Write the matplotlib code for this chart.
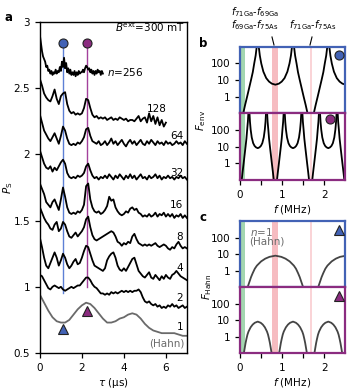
import numpy as np
import matplotlib
matplotlib.use("Agg")
import matplotlib.pyplot as plt
from matplotlib.lines import Line2D

plt.rcParams['font.family'] = ['DejaVu Sans']
plt.rcParams['font.size'] = 7
plt.rcParams['mathtext.default'] = 'it'

BLUE = '#4262b5'
PURPLE = '#8b2c80'
BLUE_L = '#5d80d6'
PURPLE_L = '#a3419c'
GRAY = '#6a6a6a'

# ---- panel a : P_S vs tau ----
tau_256 = np.linspace(0, 3, 61)
ps_256 = [2.90, 2.84, 2.78, 2.74, 2.72, 2.70, 2.66, 2.67, 2.63, 2.64,
          2.61, 2.63, 2.60, 2.62, 2.61, 2.64, 2.61, 2.63, 2.62, 2.66,
          2.63, 2.70, 2.66, 2.73, 2.65, 2.69, 2.62, 2.65, 2.61, 2.64,
          2.60, 2.62, 2.60, 2.63, 2.59, 2.62, 2.60, 2.63, 2.61, 2.62,
          2.62, 2.64, 2.62, 2.65, 2.67, 2.66, 2.64, 2.65, 2.62, 2.64,
          2.61, 2.63, 2.60, 2.63, 2.61, 2.64, 2.62, 2.63, 2.60, 2.63,
          2.61]

tau_128 = np.linspace(0, 6, 61)
ps_128 = [2.57, 2.52, 2.46, 2.43, 2.41, 2.40, 2.44, 2.49, 2.42, 2.38,
          2.44, 2.46, 2.47, 2.38, 2.33, 2.31, 2.32, 2.30, 2.31, 2.30,
          2.31, 2.35, 2.42, 2.41, 2.35, 2.30, 2.28, 2.29, 2.27, 2.28,
          2.27, 2.28, 2.26, 2.27, 2.28, 2.26, 2.27, 2.26, 2.28, 2.27,
          2.26, 2.27, 2.25, 2.26, 2.26, 2.25, 2.27, 2.29, 2.25, 2.27,
          2.28, 2.24, 2.31, 2.25, 2.29, 2.23, 2.28, 2.22, 2.26, 2.21,
          2.24]

tau = np.linspace(0, 7, 71)
ps_64 = [2.30, 2.24, 2.18, 2.15, 2.12, 2.10, 2.13, 2.16, 2.12, 2.08,
         2.14, 2.21, 2.18, 2.12, 2.08, 2.07, 2.08, 2.07, 2.09, 2.08,
         2.10, 2.13, 2.19, 2.20, 2.14, 2.10, 2.09, 2.08, 2.10, 2.07,
         2.08, 2.10, 2.07, 2.09, 2.12, 2.08, 2.10, 2.07, 2.09, 2.11,
         2.08, 2.06, 2.09, 2.11, 2.08, 2.10, 2.07, 2.09, 2.11, 2.08,
         2.07, 2.10, 2.08, 2.11, 2.09, 2.07, 2.10, 2.08, 2.09, 2.07,
         2.10, 2.08, 2.09, 2.07, 2.08, 2.10, 2.08, 2.09, 2.07, 2.10,
         2.08]
ps_32 = [2.03, 1.98, 1.93, 1.90, 1.89, 1.91, 1.87, 1.90, 1.88, 1.91,
         1.94, 1.96, 1.93, 1.86, 1.83, 1.82, 1.83, 1.82, 1.84, 1.83,
         1.84, 1.86, 1.91, 1.93, 1.88, 1.84, 1.82, 1.83, 1.81, 1.83,
         1.82, 1.84, 1.82, 1.85, 1.83, 1.81, 1.84, 1.82, 1.85, 1.83,
         1.81, 1.84, 1.82, 1.85, 1.82, 1.84, 1.81, 1.83, 1.85, 1.82,
         1.83, 1.81, 1.84, 1.82, 1.83, 1.85, 1.82, 1.84, 1.81, 1.83,
         1.82, 1.84, 1.82, 1.83, 1.81, 1.83, 1.82, 1.84, 1.82, 1.83,
         1.81]
ps_16 = [1.78, 1.74, 1.70, 1.64, 1.62, 1.60, 1.64, 1.66, 1.62, 1.58,
         1.66, 1.75, 1.68, 1.60, 1.56, 1.55, 1.56, 1.55, 1.57, 1.56,
         1.58, 1.62, 1.76, 1.78, 1.66, 1.60, 1.57, 1.56, 1.57, 1.55,
         1.56, 1.58, 1.61, 1.68, 1.65, 1.66, 1.60, 1.57, 1.55, 1.54,
         1.55, 1.57, 1.56, 1.59, 1.60, 1.58, 1.59, 1.56, 1.55, 1.53,
         1.54, 1.53, 1.55, 1.53, 1.54, 1.56, 1.53, 1.55, 1.54, 1.56,
         1.53, 1.55, 1.53, 1.55, 1.52, 1.54, 1.53, 1.55, 1.52, 1.54,
         1.52]
ps_8 = [1.60, 1.56, 1.52, 1.49, 1.47, 1.44, 1.43, 1.47, 1.49, 1.42,
        1.44, 1.49, 1.47, 1.42, 1.38, 1.37, 1.39, 1.41, 1.38, 1.40,
        1.42, 1.45, 1.51, 1.53, 1.45, 1.39, 1.36, 1.35, 1.36, 1.37,
        1.38, 1.39, 1.40, 1.41, 1.42, 1.41, 1.38, 1.34, 1.33, 1.31,
        1.33, 1.32, 1.34, 1.33, 1.38, 1.40, 1.36, 1.33, 1.32, 1.31,
        1.32, 1.31, 1.32, 1.31, 1.32, 1.33, 1.31, 1.30, 1.31, 1.32,
        1.31, 1.29, 1.28, 1.30, 1.29, 1.32, 1.34, 1.31, 1.29, 1.30,
        1.29]
ps_4 = [1.37, 1.30, 1.22, 1.16, 1.14, 1.18, 1.22, 1.26, 1.22, 1.16,
        1.20, 1.25, 1.22, 1.17, 1.14, 1.16, 1.19, 1.21, 1.17, 1.18,
        1.22, 1.27, 1.31, 1.30, 1.25, 1.20, 1.16, 1.15, 1.14, 1.13,
        1.12, 1.14, 1.20, 1.23, 1.25, 1.26, 1.22, 1.16, 1.13, 1.12,
        1.14, 1.12, 1.15, 1.18, 1.21, 1.22, 1.17, 1.12, 1.10, 1.08,
        1.07, 1.09, 1.11, 1.07, 1.06, 1.09, 1.07, 1.05, 1.08, 1.06,
        1.09, 1.07, 1.06, 1.09, 1.10, 1.12, 1.10, 1.08, 1.07, 1.06,
        1.05]
ps_2 = [1.09, 1.08, 1.05, 1.02, 0.99, 0.98, 1.00, 1.01, 1.00, 0.99,
        1.00, 0.98, 0.97, 0.98, 0.99, 1.00, 0.99, 1.00, 1.01, 1.01,
        1.03, 1.05, 1.07, 1.07, 1.05, 1.02, 1.00, 0.99, 0.97, 0.95,
        0.95, 0.94, 0.95, 0.94, 0.96, 0.95, 0.96, 0.95, 0.96, 0.97,
        0.96, 0.97, 0.96, 0.97, 0.96, 0.97, 0.97, 0.98, 0.96, 0.92,
        0.89, 0.88, 0.89, 0.87, 0.86, 0.87, 0.85, 0.86, 0.84, 0.85,
        0.84, 0.86, 0.85, 0.87, 0.85, 0.86, 0.84, 0.85, 0.86, 0.84,
        0.85]
tau_hahn = np.linspace(0, 7, 36)
ps_hahn = [0.94, 0.88, 0.82, 0.77, 0.74, 0.73, 0.73, 0.75, 0.79, 0.83,
           0.86, 0.88, 0.87, 0.84, 0.80, 0.76, 0.73, 0.73, 0.74, 0.76,
           0.77, 0.79, 0.80, 0.79, 0.76, 0.72, 0.69, 0.67, 0.66, 0.65,
           0.65, 0.65, 0.65, 0.64, 0.63, 0.63]

tau_blue = 1.1
tau_purple = 2.25

# ---- panel b : F_env (segments between divergences) ----
fenv_top_f = [
    [0.076, 0.118, 0.168, 0.218, 0.260, 0.302, 0.336, 0.370, 0.395, 0.412],
    [0.428, 0.445, 0.470, 0.504, 0.554, 0.622, 0.689, 0.756, 0.84, 0.924,
     0.991, 1.058, 1.126, 1.176, 1.210, 1.235, 1.252],
    [1.268, 1.285, 1.310, 1.344, 1.378, 1.420, 1.462, 1.512, 1.562, 1.604],
    [1.756, 1.798, 1.848, 1.898, 1.940, 1.982, 2.016, 2.050, 2.075, 2.092],
    [2.108, 2.125, 2.150, 2.184, 2.234, 2.302, 2.369, 2.436, 2.503],
]
fenv_top_v = [
    [0.1, 0.3, 1, 3.5, 10, 30, 100, 300, 1000, 3000],
    [3000, 1000, 300, 100, 32, 13, 8, 6, 5.2, 6,
     8, 13, 32, 100, 300, 1000, 3000],
    [3000, 1000, 300, 100, 30, 10, 3.5, 1, 0.3, 0.1],
    [0.1, 0.3, 1, 3.5, 10, 30, 100, 300, 1000, 3000],
    [3000, 1000, 300, 100, 32, 13, 8, 6, 5.3],
]
fenv_bot_f = [
    [0.038, 0.059, 0.084, 0.109, 0.130, 0.151, 0.168, 0.185, 0.197, 0.206],
    [0.214, 0.223, 0.235, 0.252, 0.277, 0.311, 0.344, 0.378, 0.42, 0.462,
     0.496, 0.529, 0.563, 0.588, 0.605, 0.617, 0.626],
    [0.634, 0.643, 0.655, 0.672, 0.689, 0.710, 0.731, 0.756, 0.781, 0.802],
    [0.878, 0.899, 0.924, 0.949, 0.970, 0.991, 1.008, 1.025, 1.037, 1.046],
    [1.054, 1.063, 1.075, 1.092, 1.117, 1.151, 1.184, 1.218, 1.26, 1.302,
     1.336, 1.369, 1.403, 1.428, 1.445, 1.457, 1.466],
    [1.474, 1.483, 1.495, 1.512, 1.529, 1.550, 1.571, 1.596, 1.621, 1.642],
    [1.718, 1.739, 1.764, 1.789, 1.810, 1.831, 1.848, 1.865, 1.877, 1.886],
    [1.894, 1.903, 1.915, 1.932, 1.957, 1.991, 2.024, 2.058, 2.10, 2.142,
     2.176, 2.209, 2.243, 2.268, 2.285, 2.297, 2.306],
    [2.314, 2.323, 2.335, 2.352, 2.369, 2.390, 2.411, 2.436, 2.461, 2.482],
]
fenv_bot_v = [
    [0.1, 0.3, 1, 3.5, 10, 30, 100, 300, 1000, 3000],
    [3000, 1000, 300, 100, 35, 16, 11, 9, 8, 9,
     11, 16, 35, 100, 300, 1000, 3000],
    [3000, 1000, 300, 100, 30, 10, 3.5, 1, 0.3, 0.1],
    [0.1, 0.3, 1, 3.5, 10, 30, 100, 300, 1000, 3000],
    [3000, 1000, 300, 100, 35, 16, 11, 9, 8, 9,
     11, 16, 35, 100, 300, 1000, 3000],
    [3000, 1000, 300, 100, 30, 10, 3.5, 1, 0.3, 0.1],
    [0.1, 0.3, 1, 3.5, 10, 30, 100, 300, 1000, 3000],
    [3000, 1000, 300, 100, 35, 16, 11, 9, 8, 9,
     11, 16, 35, 100, 300, 1000, 3000],
    [3000, 1000, 300, 100, 30, 10, 3.5, 1, 0.3, 0.1],
]

# ---- panel c : F_Hahn arches ----
arch_v = [0.1, 0.2, 0.4, 0.7, 1.3, 2.0, 3.6, 5.3, 6.8, 8.0,
          6.8, 5.3, 3.6, 2.0, 1.3, 0.7, 0.4, 0.2, 0.1]
fhahn_top_f = [
    [0.18, 0.22, 0.26, 0.30, 0.35, 0.40, 0.50, 0.60, 0.70, 0.84,
     0.98, 1.08, 1.18, 1.28, 1.33, 1.38, 1.42, 1.46, 1.50],
    [1.86, 1.90, 1.94, 1.98, 2.03, 2.08, 2.18, 2.28, 2.38, 2.50],
]
fhahn_top_v = [arch_v, [0.1, 0.2, 0.4, 0.7, 1.3, 2.0, 3.6, 5.3, 6.8, 7.8]]
fhahn_bot_f = [
    [0.09, 0.11, 0.13, 0.15, 0.175, 0.20, 0.25, 0.30, 0.35, 0.42,
     0.49, 0.54, 0.59, 0.64, 0.665, 0.69, 0.71, 0.73, 0.75],
    [0.93, 0.95, 0.97, 0.99, 1.015, 1.04, 1.09, 1.14, 1.19, 1.26,
     1.33, 1.38, 1.43, 1.48, 1.505, 1.53, 1.55, 1.57, 1.59],
    [1.77, 1.79, 1.81, 1.83, 1.855, 1.88, 1.93, 1.98, 2.03, 2.10,
     2.17, 2.22, 2.27, 2.32, 2.345, 2.37, 2.39, 2.41, 2.43],
]
fhahn_bot_v = [arch_v, arch_v, arch_v]

fig = plt.figure(figsize=(3.5, 3.89), dpi=100)

# ================= a =================
ax = fig.add_axes([0.114, 0.0925, 0.42, 0.851])
ax.plot([tau_blue, tau_blue], [0.95, 2.84], color=BLUE_L, lw=1.0, zorder=1)
ax.plot([tau_purple, tau_purple], [1.0, 2.84], color=PURPLE_L, lw=1.0, zorder=1)
for t, y in [(tau_256, ps_256), (tau_128, ps_128), (tau, ps_64), (tau, ps_32),
             (tau, ps_16), (tau, ps_8), (tau, ps_4), (tau, ps_2)]:
    ax.plot(t, y, color='black', lw=1.3, zorder=2)
ax.plot(tau_hahn, ps_hahn, color=GRAY, lw=1.3, zorder=2)
ax.plot([tau_blue], [2.84], 'o', ms=6.5, mfc=BLUE, mec='#222', mew=0.8, zorder=3)
ax.plot([tau_purple], [2.84], 'o', ms=6.5, mfc=PURPLE, mec='#222', mew=0.8, zorder=3)
ax.plot([tau_blue], [0.68], '^', ms=7, mfc=BLUE, mec='#222', mew=0.8, zorder=3)
ax.plot([tau_purple], [0.82], '^', ms=7, mfc=PURPLE, mec='#222', mew=0.8, zorder=3)

ax.text(3.2, 2.625, '$n$=256', va='center', ha='left', fontsize=7.5)
ax.text(6.05, 2.34, '128', va='center', ha='right', fontsize=7.5)
for lab, yy in [('64', 2.14), ('32', 1.86), ('16', 1.62), ('8', 1.375),
                ('4', 1.14), ('2', 0.915), ('1', 0.70)]:
    ax.text(6.82, yy, lab, va='center', ha='right', fontsize=7.5)
ax.text(6.9, 0.575, '(Hahn)', va='center', ha='right', color=GRAY, fontsize=7.5)
ax.text(6.9, 2.965, r'$B^{\rm ext}$=300 mT', va='center', ha='right', fontsize=7.5)

ax.set_xlim(0, 7.0)
ax.set_ylim(0.5, 3.0)
ax.set_xticks([0, 2, 4, 6])
ax.set_yticks([0.5, 1, 1.5, 2, 2.5, 3])
ax.set_yticklabels(['0.5', '1', '1.5', '2', '2.5', '3'])
ax.tick_params(direction='out', length=3.5, width=0.9, labelsize=7.5)
for s in ax.spines.values():
    s.set_linewidth(1.0)
ax.set_xlabel(r'$\tau$ (µs)', labelpad=2, fontsize=7.5)
ax.set_ylabel(r'$P_{\rm S}$', fontsize=7.5)
ax.yaxis.set_label_coords(-0.17, 0.5)
fig.text(0.023, 0.956, 'a', fontweight='bold', fontsize=8.5, ha='center', va='center')


def style_log(a, col, show_x):
    a.set_yscale('log')
    a.set_ylim(0.1, 1000)
    a.set_xlim(0, 2.5)
    a.set_yticks([1, 10, 100])
    a.set_yticklabels(['1', '10', '100'])
    a.yaxis.set_minor_locator(matplotlib.ticker.NullLocator())
    a.set_xticks([0, 1, 2])
    a.set_xticks([0.5, 1.5], minor=True)
    a.tick_params(direction='out', length=3.5, width=0.9, which='both', labelsize=7.5)
    if not show_x:
        a.tick_params(axis='x', which='both', bottom=False, labelbottom=False)
    for s in a.spines.values():
        s.set_color(col)
        s.set_linewidth(1.6)


def bands(a):
    a.axvspan(0, 0.12, color='#a3d6b0', lw=0, zorder=0)
    a.axvspan(0.77, 0.91, color='#f6bcc1', lw=0, zorder=0)
    a.axvspan(1.665, 1.71, color='#fad4d7', lw=0, zorder=0)


# ================= b =================
axb1 = fig.add_axes([0.686, 0.7095, 0.3, 0.1697])
axb2 = fig.add_axes([0.686, 0.537, 0.3, 0.1725])
for a, fs, vs, col in [(axb1, fenv_top_f, fenv_top_v, BLUE),
                       (axb2, fenv_bot_f, fenv_bot_v, PURPLE)]:
    bands(a)
    for f, v in zip(fs, vs):
        a.plot(f, v, color='black', lw=1.3, zorder=2)
    style_log(a, col, a is axb2)
axb1.plot([2.36], [350], 'o', ms=6.5, mfc=BLUE, mec='#222', mew=0.8, zorder=3)
axb2.plot([2.14], [450], 'o', ms=6.5, mfc=PURPLE, mec='#222', mew=0.8, zorder=3)
axb2.set_xlabel('$f$ (MHz)', labelpad=2, fontsize=7.5)
fig.text(0.575, 0.69, r'$F_{\rm env}$', rotation=90, va='center', ha='center', fontsize=7.5)
fig.text(0.58, 0.889, 'b', fontweight='bold', fontsize=8.5, ha='center', va='center')

fig.text(0.729, 0.968, r'$f_{\rm 71Ga}$-$f_{\rm 69Ga}$', ha='center', va='center', fontsize=7)
fig.text(0.729, 0.935, r'$f_{\rm 69Ga}$-$f_{\rm 75As}$', ha='center', va='center', fontsize=7)
fig.text(0.892, 0.935, r'$f_{\rm 71Ga}$-$f_{\rm 75As}$', ha='center', va='center', fontsize=7)
fig.add_artist(Line2D([272 / 350, 274 / 350], [1 - 37 / 389, 1 - 45 / 389], color='black', lw=0.8))
fig.add_artist(Line2D([312 / 350, 310 / 350], [1 - 37 / 389, 1 - 45 / 389], color='black', lw=0.8))

# ================= c =================
axc1 = fig.add_axes([0.686, 0.262, 0.3, 0.1697])
axc2 = fig.add_axes([0.686, 0.0925, 0.3, 0.1697])
for a, fs, vs, col in [(axc1, fhahn_top_f, fhahn_top_v, BLUE),
                       (axc2, fhahn_bot_f, fhahn_bot_v, PURPLE)]:
    bands(a)
    for f, v in zip(fs, vs):
        a.plot(f, v, color='#444444', lw=1.3, zorder=2)
    style_log(a, col, a is axc2)
axc1.plot([2.36], [300], '^', ms=7, mfc=BLUE, mec='#222', mew=0.8, zorder=3)
axc2.plot([2.36], [290], '^', ms=7, mfc=PURPLE, mec='#222', mew=0.8, zorder=3)
axc1.text(0.09, 0.93, '$n$=1\n(Hahn)', transform=axc1.transAxes, va='top', ha='left',
          color=GRAY, linespacing=0.9, fontsize=7.5)
axc2.set_xlabel('$f$ (MHz)', labelpad=2, fontsize=7.5)
fig.text(0.592, 0.262, r'$F_{\rm Hahn}$', rotation=90, va='center', ha='center', fontsize=7.5)
fig.text(0.58, 0.442, 'c', fontweight='bold', fontsize=8.5, ha='center', va='center')

fig.savefig('out.png', dpi=100)
